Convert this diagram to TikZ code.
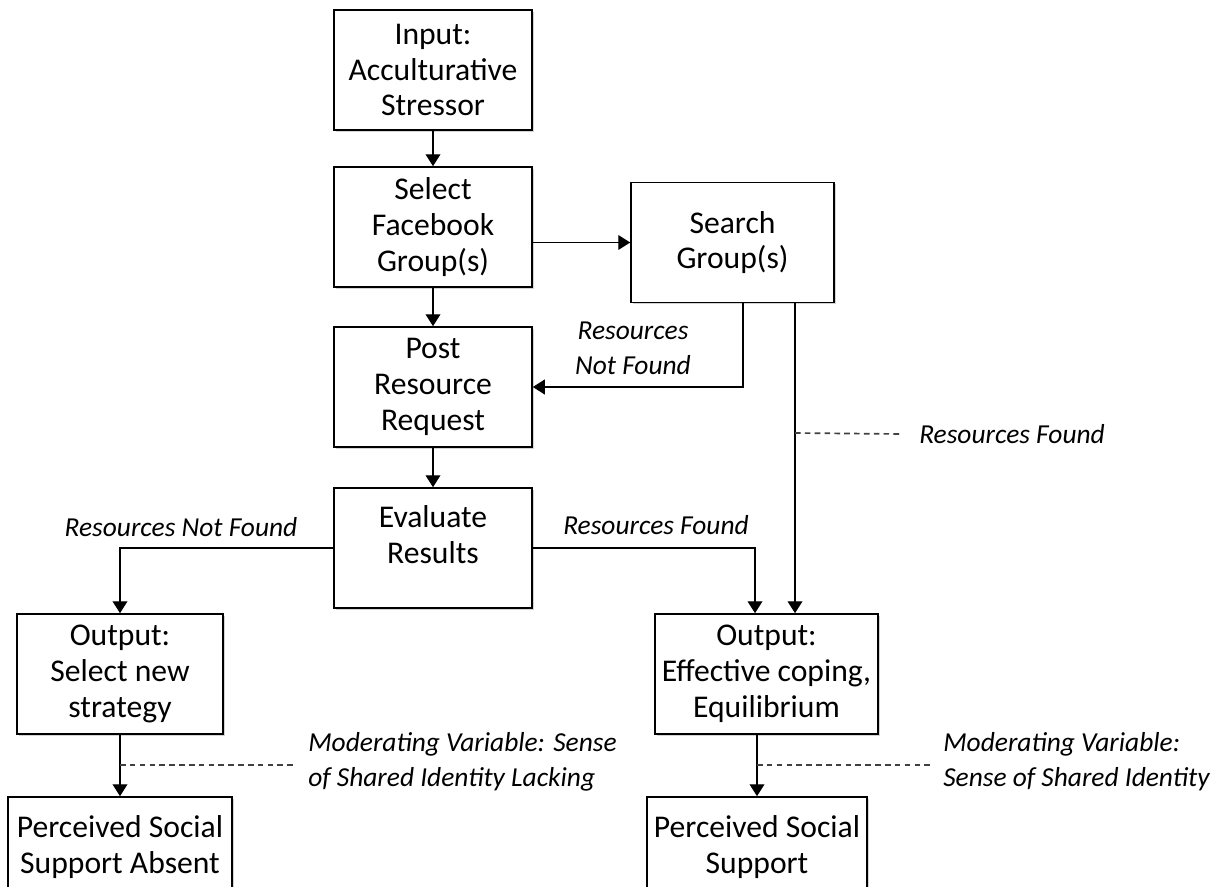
\documentclass[tikz,border=0pt]{standalone}
\usepackage{fontspec}
\setmainfont{Carlito}
\usetikzlibrary{arrows.meta,shadows}

\begin{document}
\begin{tikzpicture}[x=0.025cm,y=-0.025cm,
    scatola/.style={draw,line width=1.1pt,fill=white,align=center,
        font=\fontsize{22.5}{25.5}\selectfont,inner sep=2pt,
        minimum width=4.95cm,minimum height=3cm,
        drop shadow={shadow xshift=1.4pt,shadow yshift=-1.4pt,opacity=0.35}},
    freccia/.style={line width=1pt,-{Triangle[width=10.5pt,length=8.5pt]}},
    tratteggio/.style={line width=1.2pt,gray!50!black,dash pattern=on 4pt off 3pt},
    nota/.style={font=\fontsize{19.5}{25}\selectfont\itshape,align=left,inner sep=0pt}]
    % --- cornice -------------------------------------------------------
    \useasboundingbox (0,0) rectangle (1220,886);
    % --- colonna centrale ----------------------------------------------
    \node[scatola] (input) at (433,70) {Input:\\Acculturative\\Stressor};
    \node[scatola] (seleziona) at (433,227) {Select\\Facebook\\Group(s)};
    \node[scatola] (richiesta) at (433,387) {Post\\Resource\\Request};
    \node[scatola] (valuta) at (433,548) {Evaluate\\Results\\[-6pt]\mbox{}};
    \node[scatola,minimum width=5.075cm] (cerca) at (732.5,242.5) {Search\\Group(s)};
    % --- esiti ---------------------------------------------------------
    \node[scatola,minimum width=5.15cm] (nuova) at (120,674) {Output:\\Select new\\strategy};
    \node[scatola,minimum width=5.575cm] (equilibrio) at (766.5,674) {Output:\\Effective coping,\\Equilibrium};
    \node[scatola,minimum width=5.6cm,minimum height=2.5cm] (assente) at (120,847) {Perceived Social\\Support Absent};
    \node[scatola,minimum width=5.5cm,minimum height=2.5cm] (sostegno) at (757,847) {Perceived Social\\Support};
    % --- punti di appoggio ---------------------------------------------
    \coordinate (nontrovato) at (743,0);
    \coordinate (trovato) at (795,433);
    \coordinate (arrivo) at (755,0);
    \coordinate (moder1) at (120,765);
    \coordinate (moder2) at (757,765);
    % --- etichette -----------------------------------------------------
    \node[nota,align=center] (etnontrov) at (633,348) {Resources\\Not Found};
    \node[nota,anchor=west] (ettrov) at (919,434) {Resources Found};
    \node[nota] (etsinistra) at (181,527) {Resources Not Found};
    \node[nota] (etdestra) at (656,525) {Resources Found};
    \node[nota,anchor=west] (etmoder1) at (308,762) {Moderating Variable: Sense\\of Shared Identity Lacking};
    \node[nota,anchor=west] (etmoder2) at (943,762) {Moderating Variable:\\Sense of Shared Identity};
    % --- frecce --------------------------------------------------------
    \draw[freccia] (input) -- (seleziona);
    \draw[freccia] (seleziona.east |- cerca.west) -- (cerca.west);
    \draw[freccia] (seleziona) -- (richiesta);
    \draw[freccia] (richiesta) -- (valuta);
    \draw[freccia] (cerca.south -| nontrovato) |- (richiesta.east);
    \draw[freccia] (cerca.south -| trovato) -- (equilibrio.north -| trovato);
    \draw[freccia] (valuta.west) -| (nuova.north);
    \draw[freccia] (valuta.east) -| (equilibrio.north -| arrivo);
    \draw[freccia] (nuova) -- (assente);
    \draw[freccia] (equilibrio.south -| sostegno.north) -- (sostegno.north);
    % --- tratteggi -----------------------------------------------------
    \draw[tratteggio] (trovato) -- ([xshift=-0.47cm]ettrov.west);
    \draw[tratteggio] (moder1) -- ([xshift=-0.33cm]etmoder1.west |- moder1);
    \draw[tratteggio] (moder2) -- ([xshift=-0.33cm]etmoder2.west |- moder2);
\end{tikzpicture}
\end{document}
